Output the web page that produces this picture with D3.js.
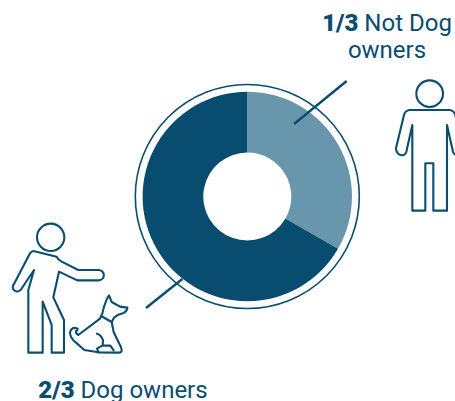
<!DOCTYPE html>
<html>
<head>
<meta charset="utf-8">
<script src="https://cdn.jsdelivr.net/npm/d3@7"></script>
<style>
  html, body { margin: 0; padding: 0; background: #fff; overflow: hidden; }
  svg { display: block; }
  text { font-family: Roboto, sans-serif; font-size: 24px; fill: #0a4d70; }
  .strong { font-weight: 900; }
</style>
</head>
<body>
<svg id="chart"></svg>
<script>
const categories = ['Not Dog owners', 'Dog owners']
const shareLabels = ['1/3', '2/3']
const values = [1, 2]
const colors = ['#6897ad', '#084c70']

const width = 455
const height = 401
const dark = '#0a4d70'
const cx = 247.3
const cy = 196.5

const svg = d3.select('#chart').attr('width', width).attr('height', height)

// donut
const pie = d3.pie().sort(null).value(d => d)
const arc = d3.arc().innerRadius(44).outerRadius(104.7)
const donut = svg.append('g').attr('transform', `translate(${cx},${cy})`)

donut.selectAll('path')
    .data(pie(values))
    .join('path')
    .attr('d', arc)
    .attr('fill', (d, i) => colors[i])

donut.append('circle')
    .attr('r', 112)
    .attr('fill', 'none')
    .attr('stroke', dark)
    .attr('stroke-width', 1.6)

// leader lines
const leaders = [
    [[346.7, 81], [294, 124]],
    [[182.3, 279], [146, 308]]
]
svg.selectAll('line.leader')
    .data(leaders)
    .join('line')
    .attr('class', 'leader')
    .attr('x1', d => d[0][0]).attr('y1', d => d[0][1])
    .attr('x2', d => d[1][0]).attr('y2', d => d[1][1])
    .attr('stroke', dark)
    .attr('stroke-width', 2.4)

// icons, traced in zoom coordinates (3x)
const icons = svg.append('g').attr('fill', 'none').attr('stroke', dark).attr('stroke-width', 6.3).attr('stroke-linejoin', 'round').attr('stroke-linecap', 'round')

const man = icons.append('g').attr('transform', 'translate(0,210) scale(0.3333)')
man.append('circle').attr('cx', 152).attr('cy', 82).attr('r', 41)
man.append('path')
    .attr('d', 'M100,123 L170,140 Q175,150 185,155 L235,180 L296,180 A15.5,15.5 0 0 1 296,211 L232,211 L177,185 L160,262 L192,330 L192,428 L155,428 L155,345 L128,275 L128,428 L85,428 L85,240 L102,180 L62,240 Q50,250 40,238 Q36,230 42,222 L90,130 Q94,124 100,123 Z')

const dog = icons.append('g').attr('transform', 'translate(65,290) scale(0.3333)')
dog.append('path')
    .attr('d', 'M132,16 L140,36 L165,50 L187,53 Q186,64 176,69 L160,74 L147,83 L140,96 L146,126 L168,172 Q174,188 162,188 L100,187 L58,180 L33,158 Q15,145 15,127 Q20,108 38,116 Q38,122 33,123 Q31,130 40,135 L105,86 L112,71 Q118,40 132,16 Z')
dog.append('path').attr('d', 'M108,78 L140,96 M96,131 Q109,134 114,151 L113,166 L96,176 L101,187 M113,166 L136,167 L146,181')

const person = icons.append('g').attr('transform', 'translate(300,0) scale(0.3333)')
person.append('circle').attr('cx', 389).attr('cy', 281).attr('r', 40)
person.append('path')
    .attr('d', 'M328,330 L450,330 Q462,332 466,345 L490,445 Q490,462 474,466 Q462,466 459,455 L441,375 L441,632 L400,632 L400,490 L376,490 L376,632 L337,632 L337,375 L319,455 Q316,466 304,466 Q288,462 288,445 L312,345 Q316,332 328,330 Z')

// labels
const labelNot = svg.append('text').attr('text-anchor', 'middle')
labelNot.append('tspan').attr('x', 387).attr('y', 31).attr('class', 'strong').text(shareLabels[0])
labelNot.append('tspan').text(' Not Dog')
labelNot.append('tspan').attr('x', 387).attr('y', 58).text('owners')

const labelDog = svg.append('text').attr('text-anchor', 'middle').attr('x', 123).attr('y', 398)
labelDog.append('tspan').attr('class', 'strong').text(shareLabels[1])
labelDog.append('tspan').text(' ' + categories[1])
</script>
</body>
</html>
